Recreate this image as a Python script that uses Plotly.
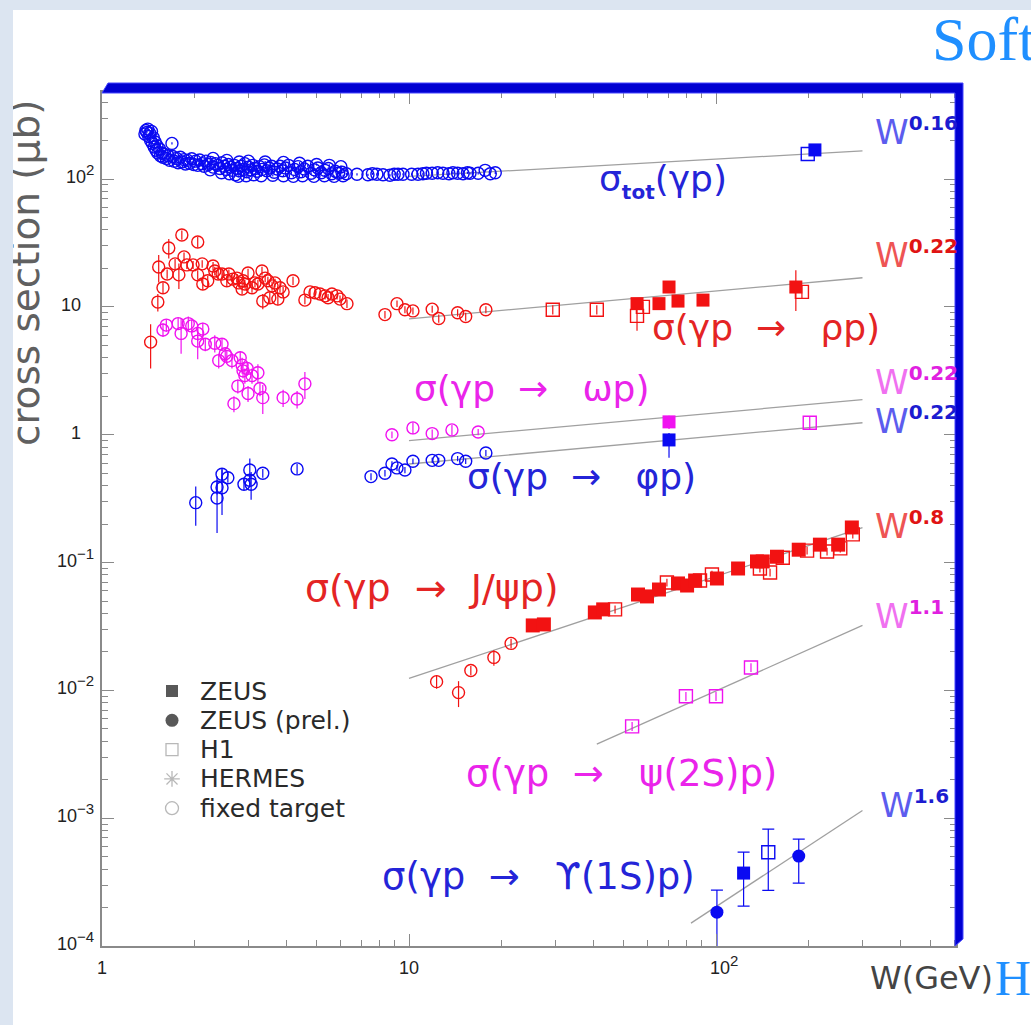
import math
import plotly.graph_objects as go

# ---------------------------------------------------------------
# Photoproduction cross sections vs W (GeV), cross section in microbarn
# ---------------------------------------------------------------

# total cross section, fixed-target data (open circles)
tot_ft_w = [1.38, 1.39, 1.40, 1.41, 1.42, 1.43, 1.44, 1.45, 1.46, 1.47, 1.48, 1.49, 1.50, 1.51,
            1.52, 1.54, 1.55, 1.57, 1.58, 1.60, 1.62, 1.64, 1.66, 1.69, 1.70, 1.72, 1.75, 1.77,
            1.80, 1.82, 1.85, 1.87, 1.90, 1.93, 1.96, 1.99, 2.02, 2.05, 2.08, 2.12, 2.15, 2.18,
            2.22, 2.25, 2.26, 2.30, 2.30, 2.34, 2.38, 2.42, 2.45, 2.46, 2.50, 2.54, 2.55, 2.58,
            2.60, 2.62, 2.66, 2.70, 2.72, 2.75, 2.78, 2.80, 2.80, 2.84, 2.88, 2.92, 2.95, 2.96,
            3.00, 3.00, 3.05, 3.10, 3.12, 3.15, 3.20, 3.26, 3.30, 3.32, 3.38, 3.40, 3.44, 3.50,
            3.57, 3.60, 3.64, 3.72, 3.80, 3.88, 3.90, 3.90, 3.96, 4.05, 4.14, 4.20, 4.24, 4.35,
            4.40, 4.45, 4.50, 4.56, 4.68, 4.80, 4.90, 4.92, 5.00, 5.05, 5.18, 5.30, 5.32, 5.46,
            5.50, 5.60, 5.70, 5.75, 5.90, 6.00, 6.05, 6.10, 6.25,
            6.77, 7.35, 7.60, 7.86, 8.23, 8.67, 8.95, 9.21, 9.56, 10.2, 10.7, 11.1, 11.4, 11.9,
            12.4, 12.9, 13.5, 13.9, 14.4, 15.0, 15.5, 15.8, 16.8, 17.7, 18.4, 19.1]
tot_ft_s = [225, 240, 232, 246, 215, 228, 200, 236, 190, 210, 178, 195, 168, 182,
            160, 172, 152, 160, 148, 156, 145, 152, 140, 190, 150, 138, 145, 134,
            148, 136, 142, 131, 140, 133, 144, 130, 138, 128, 141, 132, 126, 138,
            130, 118, 135, 124, 145, 132, 128, 121, 112, 134, 126, 119, 140, 130,
            110, 124, 117, 128, 108, 121, 105, 116, 136, 126, 119, 132, 106, 114,
            124, 138, 118, 128, 108, 121, 115, 125, 106, 119, 129, 136, 116, 122,
            126, 107, 113, 120, 126, 116, 106, 135, 122, 128, 112, 105, 119, 125,
            133, 114, 106, 120, 126, 111, 105, 118, 130, 122, 112, 106, 117, 121,
            128, 110, 105, 115, 111, 125, 113, 106, 110,
            109, 108, 110, 109, 108, 107, 109, 109, 109, 109, 109, 110, 111, 111,
            112, 111, 110, 112, 111, 110, 112, 111, 111, 117, 110, 112]
tot_zeus_w = [210.0]
tot_zeus_s = [169.0]
tot_h1_w = [199.0]
tot_h1_s = [157.0]

# rho photoproduction
rho_ft_w = [1.44, 1.52, 1.53, 1.58, 1.63, 1.65, 1.73, 1.78, 1.82, 1.85, 1.89, 1.98, 2.05, 2.05,
            2.12, 2.13, 2.21, 2.30, 2.33, 2.39, 2.46, 2.55, 2.59, 2.67, 2.75, 2.79, 2.86, 2.88,
            2.92, 2.99, 3.08, 3.15, 3.22, 3.32, 3.34, 3.40, 3.47, 3.52, 3.58, 3.66, 3.74, 3.80,
            3.89, 4.19, 4.58, 4.76, 4.94, 5.13, 5.33, 5.45, 5.61, 5.83, 5.96, 6.28,
            8.35, 9.14, 9.70, 10.3, 11.9, 12.5, 14.4, 15.3, 17.8]
rho_ft_s = [5.3, 10.9, 20.5, 14.1, 18.1, 28.9, 21.7, 17.8, 36.5, 24.6, 21.3, 21.3, 32.2, 17.8,
            21.7, 15.1, 16.0, 20.9, 19.1, 18.1, 18.1, 16.0, 18.1, 16.5, 16.8, 15.4, 13.8, 16.0,
            15.1, 18.4, 14.1, 15.4, 15.1, 19.1, 11.1, 16.8, 16.0, 11.8, 14.6, 15.4, 11.5, 14.1,
            13.1, 16.0, 11.3, 13.1, 12.9, 12.6, 12.2, 11.8, 12.6, 12.2, 11.5, 10.6,
            8.7, 10.6, 9.5, 9.3, 9.6, 8.1, 9.0, 8.4, 9.5]
rho_ft_e = [2.0, 1.7, 5.0, 1.5, 1.5, 5.0, 2.0, 4.0, 3.0, 2.0, 1.5, 1.5, 3.0, 1.5,
            1.5, 1.5, 1.5, 1.5, 1.5, 1.5, 1.5, 1.5, 1.5, 1.2, 1.2, 1.2, 1.2, 1.2,
            1.2, 1.5, 1.2, 1.2, 1.2, 1.5, 1.5, 1.2, 1.2, 1.2, 1.2, 1.2, 1.2, 1.2,
            1.2, 1.2, 0.8, 0.8, 0.8, 0.8, 0.8, 0.8, 0.8, 0.8, 0.8, 0.8,
            0.6, 0.6, 0.6, 0.6, 0.6, 0.6, 0.6, 0.6, 0.6]
rho_zeus_w = [55.3, 65.2, 70.3, 75.2, 90.7, 182.0]
rho_zeus_s = [10.6, 10.6, 14.3, 11.1, 11.3, 14.3]
rho_zeus_e = [1.0, 1.0, 1.2, 1.0, 1.0, 5.0]
rho_h1_w = [29.4, 40.9, 55.3, 57.8, 190.5]
rho_h1_s = [9.5, 9.5, 8.5, 10.0, 13.1]
rho_h1_e = [0.8, 0.8, 2.0, 1.0, 1.5]

# omega photoproduction
omega_ft_w = [1.58, 1.62, 1.77, 1.81, 1.91, 1.96, 2.05, 2.05, 2.13, 2.17, 2.33, 2.40, 2.46, 2.52,
              2.55, 2.65, 2.69, 2.77, 2.82, 2.86, 2.88, 2.92, 2.97, 2.99, 3.08, 3.22, 3.27, 3.34,
              3.89, 4.32, 4.58, 8.8, 10.3, 11.9, 13.8, 16.8]
omega_ft_s = [6.6, 7.2, 7.4, 6.2, 7.4, 7.1, 6.2, 5.4, 6.7, 5.1, 5.2, 3.8, 5.1, 4.3,
              4.1, 3.8, 1.75, 2.4, 4.0, 3.5, 3.16, 2.9, 3.3, 2.1, 2.9, 3.05, 2.3, 1.95,
              1.95, 1.9, 2.5, 1.0, 1.13, 1.02, 1.09, 1.05]
omega_ft_e = [0.8, 0.8, 0.8, 1.9, 1.0, 0.8, 0.8, 1.5, 0.8, 0.6, 0.8, 0.5, 0.5, 0.5,
              0.5, 0.5, 0.25, 0.3, 0.5, 0.5, 0.4, 0.4, 0.4, 0.3, 0.4, 0.5, 0.3, 0.5,
              0.3, 0.3, 0.6, 0.06, 0.12, 0.08, 0.1, 0.06]
omega_zeus_w = [70.3]
omega_zeus_s = [1.26]
omega_zeus_e = [0.15]
omega_h1_w = [202.0]
omega_h1_s = [1.24]
omega_h1_e = [0.15]

# phi photoproduction
phi_ft_w = [2.02, 2.37, 2.37, 2.46, 2.46, 2.57, 2.90, 3.03, 3.03, 3.06, 3.34, 4.32,
            7.52, 8.35, 8.8, 9.14, 9.70, 10.3, 11.9, 12.5, 14.4, 15.3, 17.8]
phi_ft_s = [0.294, 0.32, 0.39, 0.385, 0.49, 0.46, 0.41, 0.53, 0.44, 0.41, 0.50, 0.54,
            0.47, 0.50, 0.59, 0.55, 0.53, 0.62, 0.63, 0.63, 0.65, 0.62, 0.72]
phi_ft_e = [0.1, 0.15, 0.05, 0.15, 0.05, 0.04, 0.04, 0.12, 0.04, 0.1, 0.04, 0.05,
            0.03, 0.03, 0.03, 0.03, 0.03, 0.03, 0.03, 0.03, 0.03, 0.03, 0.04]
phi_zeus_w = [70.3]
phi_zeus_s = [0.91]
phi_zeus_eup = [0.12]
phi_zeus_edn = [0.25]

# J/psi photoproduction
jpsi_ft_w = [12.3, 14.5, 15.9, 18.9, 21.5]
jpsi_ft_s = [0.0117, 0.0096, 0.0143, 0.0181, 0.0233]
jpsi_ft_e = [0.0014, 0.0022, 0.0012, 0.0025, 0.0020]
jpsi_zeus_w = [25.3, 27.5, 40.3, 42.9, 55.7, 59.6, 65.2, 75.2, 80.5, 85.5, 100.7, 118.0,
               136.0, 142.0, 158.0, 186.0, 218.0, 250.0, 277.0]
jpsi_zeus_s = [0.0322, 0.0328, 0.0407, 0.0430, 0.0562, 0.0543, 0.0615, 0.0686, 0.0661, 0.0723,
               0.0750, 0.0898, 0.102, 0.102, 0.111, 0.126, 0.138, 0.138, 0.188]
jpsi_h1_w = [46.9, 69.2, 88.7, 97.0, 139.0, 150.0, 165.0, 198.0, 230.0, 254.0, 279.0]
jpsi_h1_s = [0.0430, 0.0698, 0.0723, 0.0806, 0.0898, 0.0835, 0.109, 0.124, 0.122, 0.129, 0.166]

# psi(2S) photoproduction
psi2s_h1_w = [53.3, 79.8, 100.0, 130.0]
psi2s_h1_s = [0.00523, 0.00898, 0.00898, 0.0151]

# Upsilon(1S) photoproduction
ups_zeusprel_w = [100.7, 186.0]
ups_zeusprel_s = [1.84e-4, 5.05e-4]
ups_zeusprel_eup = [0.90e-4, 1.80e-4]
ups_zeusprel_edn = [1.05e-4, 1.95e-4]
ups_zeus_w = [123.0]
ups_zeus_s = [3.72e-4]
ups_zeus_eup = [1.70e-4]
ups_zeus_edn = [1.67e-4]
ups_h1_w = [148.0]
ups_h1_s = [5.42e-4]
ups_h1_eup = [2.80e-4]
ups_h1_edn = [2.70e-4]

# power-law fits  sigma ~ W^delta (end points)
fit_tot_w, fit_tot_s = [10, 300], [105, 166]
fit_rho_w, fit_rho_s = [10, 300], [8.06, 16.9]
fit_omega_w, fit_omega_s = [10, 300], [0.90, 1.88]
fit_phi_w, fit_phi_s = [10, 300], [0.59, 1.24]
fit_jpsi_w, fit_jpsi_s = [10, 300], [0.0124, 0.1875]
fit_psi2s_w, fit_psi2s_s = [40.9, 300], [0.00379, 0.0322]
fit_ups_w, fit_ups_s = [82.9, 300], [1.51e-4, 1.15e-3]

# axis ticks and labels
y_tick_vals = [1e-4, 1e-3, 1e-2, 1e-1, 1, 10, 100]
y_tick_text = ["10<sup>−4</sup>", "10<sup>−3</sup>", "10<sup>−2</sup>", "10<sup>−1</sup>", "1", "10", "10<sup>2</sup>"]
x_tick_vals = [1, 10, 100]
x_tick_text = ["1", "10", "10<sup>2</sup>"]

legend_labels = ["ZEUS", "ZEUS (prel.)", "H1", "HERMES", "fixed target"]
legend_symbols = ["square", "circle", "square-open", "asterisk-open", "circle-open"]
legend_colors = ["#111111", "#111111", "#9a9a9a", "#9a9a9a", "#9a9a9a"]

# ---------------------------------------------------------------
BLUE, RED, MAG = "#0a0af2", "#f21212", "#f012f0"
AXIS = "#8a8a8a"
STRIP = "#dce5f1"
SANS = "DejaVu Sans"

W_PX, H_PX = 1031, 1025
L, R, T, B = 102, 75, 92, 79
PW, PH = W_PX - L - R, H_PX - T - B


def px(x):
    return (x - L) / PW


def py(y):
    return (H_PX - B - y) / PH


def points(w, s, color, symbol, size, eup=None, edn=None, cap=0):
    is_open = symbol.endswith("open")
    marker = dict(symbol=symbol, size=size, color=color,
                  line=dict(color=color, width=1.4 if is_open else 0))
    ey = None
    if eup is not None:
        ey = dict(type="data", array=eup, arrayminus=edn if edn is not None else eup,
                  symmetric=False, color=color, thickness=1.2, width=cap, visible=True)
    return go.Scatter(x=w, y=s, mode="markers", marker=marker, error_y=ey,
                      showlegend=False, hoverinfo="skip")


def fitline(w, s):
    return go.Scatter(x=w, y=s, mode="lines", line=dict(color="#a0a0a0", width=1.3),
                      showlegend=False, hoverinfo="skip")


fig = go.Figure()

for w, s in [(fit_tot_w, fit_tot_s), (fit_rho_w, fit_rho_s), (fit_omega_w, fit_omega_s),
             (fit_phi_w, fit_phi_s), (fit_jpsi_w, fit_jpsi_s), (fit_psi2s_w, fit_psi2s_s),
             (fit_ups_w, fit_ups_s)]:
    fig.add_trace(fitline(w, s))

tot_err = [0.02 * v for v in tot_ft_s]
fig.add_trace(points(tot_ft_w, tot_ft_s, BLUE, "circle-open", 12, tot_err))
fig.add_trace(points(tot_h1_w, tot_h1_s, BLUE, "square-open", 13))
fig.add_trace(points(tot_zeus_w, tot_zeus_s, BLUE, "square", 13))

fig.add_trace(points(rho_ft_w, rho_ft_s, RED, "circle-open", 12, rho_ft_e))
fig.add_trace(points(rho_h1_w, rho_h1_s, RED, "square-open", 13, rho_h1_e))
fig.add_trace(points(rho_zeus_w, rho_zeus_s, RED, "square", 13, rho_zeus_e))

fig.add_trace(points(omega_ft_w, omega_ft_s, MAG, "circle-open", 12, omega_ft_e))
fig.add_trace(points(omega_h1_w, omega_h1_s, MAG, "square-open", 13, omega_h1_e))
fig.add_trace(points(omega_zeus_w, omega_zeus_s, MAG, "square", 13, omega_zeus_e))

fig.add_trace(points(phi_ft_w, phi_ft_s, BLUE, "circle-open", 12, phi_ft_e))
fig.add_trace(points(phi_zeus_w, phi_zeus_s, BLUE, "square", 13, phi_zeus_eup, phi_zeus_edn))

fig.add_trace(points(jpsi_ft_w, jpsi_ft_s, RED, "circle-open", 12, jpsi_ft_e))
fig.add_trace(points(jpsi_h1_w, jpsi_h1_s, RED, "square-open", 13, [0.07 * v for v in jpsi_h1_s]))
fig.add_trace(points(jpsi_zeus_w, jpsi_zeus_s, RED, "square", 14, [0.07 * v for v in jpsi_zeus_s]))

fig.add_trace(points(psi2s_h1_w, psi2s_h1_s, MAG, "square-open", 13, [0.08 * v for v in psi2s_h1_s]))

fig.add_trace(points(ups_h1_w, ups_h1_s, BLUE, "square-open", 13, ups_h1_eup, ups_h1_edn, cap=6))
fig.add_trace(points(ups_zeus_w, ups_zeus_s, BLUE, "square", 13, ups_zeus_eup, ups_zeus_edn, cap=6))
fig.add_trace(points(ups_zeusprel_w, ups_zeusprel_s, BLUE, "circle", 13, ups_zeusprel_eup,
                     ups_zeusprel_edn, cap=6))

# legend keys drawn on an invisible unit overlay
leg_rows = [691 + 29.3 * i for i in range(len(legend_labels))]
fig.add_trace(go.Scatter(
    x=[px(172)] * len(legend_labels), y=[py(r) for r in leg_rows],
    xaxis="x3", yaxis="y3", mode="markers", showlegend=False, hoverinfo="skip",
    marker=dict(symbol=legend_symbols, size=[12, 13, 12, 13, 13], color=legend_colors,
                line=dict(color=legend_colors, width=[0, 0, 1.3, 1.3, 1.3]))))

x_minor = [k * 10 ** d for d in range(0, 3) for k in range(2, 10) if k * 10 ** d < 605]
y_minor = [k * 10.0 ** d for d in range(-4, 3) for k in range(2, 10) if k * 10.0 ** d < 480]

axis_common = dict(type="log", showline=True, linecolor=AXIS, linewidth=2, mirror="ticks",
                   ticks="inside", ticklen=12, tickwidth=1.3, tickcolor=AXIS,
                   showticklabels=False, showgrid=False, zeroline=False)

fig.update_layout(
    width=W_PX, height=H_PX, autosize=False,
    margin=dict(l=L, r=R, t=T, b=B, pad=0),
    paper_bgcolor="white", plot_bgcolor="white", showlegend=False,
    xaxis=dict(range=[0, math.log10(605)], tickvals=x_tick_vals,
               minor=dict(tickmode="array", tickvals=x_minor, ticks="inside", ticklen=6,
                          tickwidth=1.2, tickcolor=AXIS, showgrid=False),
               **axis_common),
    yaxis=dict(range=[-4, 2 + 87 / 127.75], tickvals=y_tick_vals,
               minor=dict(tickmode="array", tickvals=y_minor, ticks="inside", ticklen=6,
                          tickwidth=1.2, tickcolor=AXIS, showgrid=False),
               **axis_common),
    xaxis3=dict(overlaying="x", anchor="y3", range=[0, 1], visible=False),
    yaxis3=dict(overlaying="y", anchor="x3", range=[0, 1], visible=False),
)

# thick blue frame on top and right
fig.add_shape(type="path", xref="paper", yref="paper", layer="above",
              path=(f"M 0,{py(93)} L {px(108)},{py(83)} L {px(963)},{py(83)} "
                    f"L {px(963)},{py(939)} L {px(955)},{py(946)} L {px(955)},{py(93)} Z"),
              fillcolor="#0000d2", line=dict(color="#4646ff", width=1))
# slide strip along the top
fig.add_shape(type="rect", xref="paper", yref="paper", layer="below",
              x0=px(0), x1=px(W_PX), y0=py(0), y1=py(10), fillcolor=STRIP, line=dict(width=0))

ann = []


def text(t, x, y, size, color, family=SANS, xanchor="left", yanchor="middle", **kw):
    ann.append(dict(text=t, x=px(x), y=py(y), xref="paper", yref="paper", showarrow=False,
                    xanchor=xanchor, yanchor=yanchor,
                    font=dict(family=family, size=size, color=color), **kw))


NB = "\u00a0"
ARROW = f"{NB}{NB}→{NB}{NB}"

# process labels
text(f"σ<sub><b><span style='font-size:20px'>tot</span></b></sub>(γp)", 597, 181, 36, "#2424d8")
text(f"σ(γp{ARROW}{NB}ρp)", 650, 327, 36, "#e42424")
text(f"σ(γp{ARROW}{NB}ωp)", 412, 388, 36, "#ea24ea")
text(f"σ(γp{ARROW}{NB}φp)", 465, 477, 36, "#2424d8")
text(f"σ(γp{ARROW}J/ψp)", 303, 588, 38, "#e42424")
text(f"σ(γp{ARROW}{NB}ψ(2S)p)", 464, 773, 37, "#ea24ea")
text(f"σ(γp{ARROW}{NB}ϒ(1S)p)", 380, 876, 37, "#2424d8")

# power-law exponents
for exp_txt, y, wcol, scol, x in [("0.16", 131, "#5c5cee", "#1c1cd0", 873),
                                  ("0.22", 254, "#ee5454", "#e01414", 873),
                                  ("0.22", 381, "#f070f0", "#e020e0", 873),
                                  ("0.22", 420, "#5c5cee", "#1c1cd0", 873),
                                  ("0.8", 525, "#ee5454", "#e01414", 873),
                                  ("1.1", 615, "#f070f0", "#e020e0", 873),
                                  ("1.6", 804, "#5c5cee", "#1c1cd0", 878)]:
    text(f"<span style='color:{wcol}'>W</span><sup><b><span style='font-size:20px'>{exp_txt}</span></b></sup>",
         x, y, 34, scol)

# legend text
for lab, r in zip(legend_labels, leg_rows):
    text(lab, 198, r, 25, "#2a2a2a")

# tick labels placed through the axes
for v, t in zip(y_tick_vals, y_tick_text):
    sup = "sup" in t
    ann.append(dict(text=t.replace("<sup>", "<sup><span style='font-size:15px'>").replace("</sup>", "</span></sup>"),
                    x=px(96 if sup else 83), xref="paper", y=math.log10(v), yref="y",
                    showarrow=False, xanchor="right", yanchor="middle", yshift=5 if sup else 2,
                    font=dict(family="Liberation Sans", size=18, color="#222222")))
for v, t in zip(x_tick_vals, x_tick_text):
    sup = "sup" in t
    ann.append(dict(text=t.replace("<sup>", "<sup><span style='font-size:15px'>").replace("</sup>", "</span></sup>"),
                    x=math.log10(v), xref="x", y=py(968), yref="paper",
                    showarrow=False, xanchor="center", yanchor="middle", xshift=8 if sup else 0,
                    yshift=3 if sup else 0,
                    font=dict(family="Liberation Sans", size=18, color="#222222")))

# axis titles and slide text
text("cross section (μb)", 25, 273, 39, "#606060", xanchor="center", textangle=-90)
text("W(GeV)", 868, 978, 32, "#444444")
text("H", 993, 978, 50, "#1f8fff", family="Liberation Serif")
text("Soft", 930, 39, 62, "#1f8fff", family="Liberation Serif")

# left slide strip (drawn last so it trims the rotated title)
ann.append(dict(text=NB, x=px(0), y=py(0), xref="paper", yref="paper", showarrow=False,
                xanchor="left", yanchor="top", width=13, height=H_PX, bgcolor=STRIP,
                borderpad=0, borderwidth=0, font=dict(size=10)))

fig.update_layout(annotations=ann)
fig.write_html("out.html")
